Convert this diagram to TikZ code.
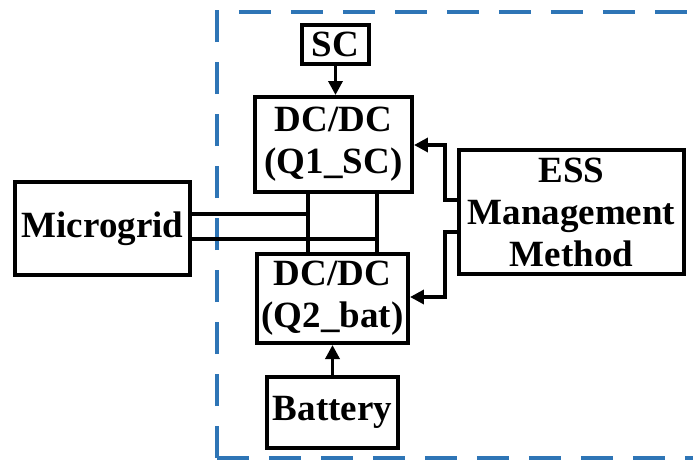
\documentclass[tikz,border=0pt]{standalone}
\usepackage{fontspec}
\setmainfont{Liberation Serif}
\usetikzlibrary{arrows.meta}

\definecolor{essblue}{RGB}{46,117,182}

\begin{document}
\begin{tikzpicture}[x=0.5pt,y=-0.5pt,>={Triangle[length=7pt,width=7pt]},
    blk/.style={draw,line width=2pt,align=center,inner sep=0pt,
      font=\bfseries\fontsize{18.5}{21}\selectfont},
    wire/.style={line width=1.7pt}]
  \useasboundingbox (0,0) rectangle (693,461);
  \clip (0,0) rectangle (693,461);
  % ESS frame, runs off the right edge
  \draw[essblue,line width=2pt,dash pattern=on 16pt off 10pt] (217,458) -- (217,12) -- (720,12);
  \draw[essblue,line width=2pt,dash pattern=on 16pt off 10pt] (217,458) -- (720,458);

  \node[blk,minimum width=33.5pt,minimum height=19.5pt] (sc) at (335.5,44.5) {SC};
  \node[blk,minimum width=78.5pt,minimum height=47.5pt] (dc1) at (333.5,144.5) {DC/DC\\(Q1\_SC)};
  \node[blk,minimum width=75.5pt,minimum height=44.5pt] (dc2) at (332.5,298.5) {DC/DC\\(Q2\_bat)};
  \node[blk,minimum width=65.5pt,minimum height=35.5pt] (bat) at (332.5,412.5) {Battery};
  \node[blk,minimum width=87.5pt,minimum height=46.5pt] (mg) at (102.5,228.5) {Microgrid};
  \node[blk,minimum width=112.5pt,minimum height=62pt] (ess) at (571.5,212) {ESS\\Management\\Method};

  \draw[wire,->] (sc.south) -- (sc.south |- dc1.north);
  \draw[wire,->] (bat.north) -- (bat.north |- dc2.south);

  % bus lines
  \coordinate (j1) at (308,214);
  \coordinate (j2) at (377,239);
  \draw[wire] (mg.east |- j1) -- (j1);
  \draw[wire] (mg.east |- j2) -- (j2);
  \draw[wire] (dc1.south -| j1) -- (dc2.north -| j1);
  \draw[wire] (dc1.south -| j2) -- (dc2.north -| j2);

  % control signals
  \coordinate (k1) at (445,200);
  \coordinate (k2) at (445,232);
  \coordinate (t1) at (445,145);
  \coordinate (t2) at (445,297);
  \draw[wire,->] (ess.west |- k1) -- (k1) -- (t1) -- (dc1.east |- t1);
  \draw[wire,->] (ess.west |- k2) -- (k2) -- (t2) -- (dc2.east |- t2);
\end{tikzpicture}
\end{document}
